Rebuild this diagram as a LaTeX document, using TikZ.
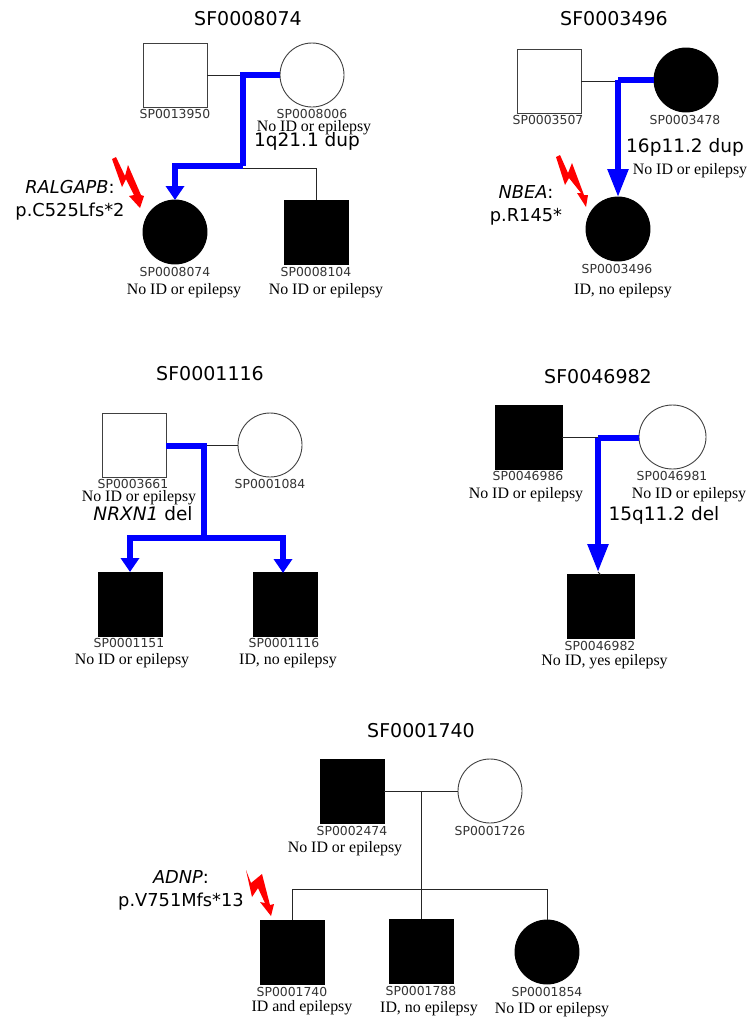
\documentclass[tikz,border=0pt]{standalone}
\usepackage{fontspec}
\setmainfont{Liberation Serif}
\newfontfamily\dejavu{DejaVu Sans}
\usetikzlibrary{arrows.meta,shapes.geometric}
\tikzset{
person/.style={draw=black!75,line width=0.9pt,inner sep=0pt,outer sep=0pt},
sqopen/.style={person,rectangle,minimum width=64pt,minimum height=64pt},
sqfull/.style={sqopen,fill=black,draw=black},
ciopen/.style={person,ellipse,minimum width=64pt,minimum height=64pt},
cifull/.style={ciopen,fill=black,draw=black},
famtitle/.style={font=\dejavu\fontsize{19}{20}\selectfont,inner sep=0pt},
spid/.style={font=\dejavu\fontsize{12.4}{13}\selectfont,text=black!80,inner sep=0pt},
pheno/.style={font=\fontsize{15.9}{16}\selectfont,inner sep=0pt,yshift=-1.5pt},
cnv/.style={font=\dejavu\fontsize{18.5}{20}\selectfont,inner sep=0pt},
snv/.style={font=\dejavu\fontsize{17.8}{23}\selectfont,inner sep=0pt,align=center},
link/.style={draw=black!85,line width=1pt},
carrier/.style={draw=blue,line width=5.5pt},
carrierarrow/.style={carrier,-{Triangle[length=14pt,width=18pt]}},
carrierlong/.style={carrier,-{Triangle[length=28pt,width=20pt]}},
bolt/.style={fill=red,draw=none}
}
\begin{document}
\begin{tikzpicture}[x=1pt,y=-1pt]
\useasboundingbox (0,0) rectangle (749,1018);
% SF0008074
\node[famtitle] (t1) at (248,19) {SF0008074};
\node[sqopen] (a1) at (175,75) {};
\node[ciopen] (a2) at (312,75) {};
\node[cifull] (a3) at (175,232) {};
\node[sqfull] (a4) at (316,232) {};
\node[spid] (a1id) at (175,114) {SP0013950};
\node[spid] (a2id) at (312,114) {SP0008006};
\node[pheno] (a2ph) at (314,126) {No ID or epilepsy};
\node[cnv] (a2cnv) at (307,141) {1q21.1 dup};
\node[spid] (a3id) at (175,272) {SP0008074};
\node[pheno] (a3ph) at (184,289) {No ID or epilepsy};
\node[spid] (a4id) at (316,272) {SP0008104};
\node[pheno] (a4ph) at (326,289) {No ID or epilepsy};
\node[snv] (a3snv) at (70,200) {\textit{RALGAPB}:\\p.C525Lfs*2};
\coordinate (a12) at (243,75);
\coordinate (a34) at (243,166);
\coordinate (a35) at (243,168);
\draw[link] (a1) -- (a2);
\draw[link] (a35) -| (a4);
\draw[carrier] (a2.west) -- (a12) -- (a34);
\draw[carrierarrow] (a34) -| (a3);
\fill[bolt] (112,159) -- (116,157) -- (125,176) -- (128,165) -- (141,195) -- (144,196) -- (140,208) -- (129,196) -- (134,195) -- (126,179) -- (122,187) -- cycle;
% SF0003496
\node[famtitle] (t2) at (614,19) {SF0003496};
\node[sqopen] (b1) at (549,81) {};
\node[cifull] (b2) at (686,80) {};
\node[cifull] (b3) at (618,229) {};
\node[spid] (b1id) at (548,120) {SP0003507};
\node[spid] (b2id) at (685,120) {SP0003478};
\node[cnv] (b2cnv) at (685,147) {16p11.2 dup};
\node[pheno] (b2ph) at (690,169) {No ID or epilepsy};
\node[spid] (b3id) at (617,269) {SP0003496};
\node[pheno] (b3ph) at (623,289) {ID, no epilepsy};
\node[snv] (b3snv) at (526,205) {\textit{NBEA}:\\p.R145*};
\coordinate (b12) at (618,80);
\draw[link] (b1.east) -- (b12 |- b1.east);
\draw[carrier] (b2) -- (b12);
\draw[carrierlong] (b12) -- (b3);
\fill[bolt] (556,157) -- (560,155) -- (568,173) -- (572,163) -- (584,195) -- (588,195) -- (586,207) -- (577,193) -- (581,193) -- (569,178) -- (565,185) -- cycle;
% SF0001116
\node[famtitle] (t3) at (210,374) {SF0001116};
\node[sqopen] (c1) at (134,445) {};
\node[ciopen] (c2) at (270,445) {};
\node[sqfull] (c3) at (130,604) {};
\node[sqfull] (c4) at (285,604) {};
\node[spid] (c1id) at (133,484) {SP0003661};
\node[pheno] (c1ph) at (139,496) {No ID or epilepsy};
\node[spid] (c2id) at (270,484) {SP0001084};
\node[cnv] (c1cnv) at (143,514) {\textit{NRXN1} del};
\node[spid] (c3id) at (129,643) {SP0001151};
\node[pheno] (c3ph) at (132,659) {No ID or epilepsy};
\node[spid] (c4id) at (284,643) {SP0001116};
\node[pheno] (c4ph) at (288,659) {ID, no epilepsy};
\coordinate (c12) at (204,446);
\coordinate (c34) at (204,538);
\coordinate (c4tip) at (283,573);
\draw[link] (c1) -- (c2);
\draw[carrier] (c1.east |- c12) -- (c12) -- (c34);
\draw[carrierarrow] (c34) -| (c3);
\draw[carrierarrow] (c34) -| (c4tip);
% SF0046982
\node[famtitle] (t4) at (598,377) {SF0046982};
\node[sqfull,minimum width=67pt] (d1) at (528.5,437) {};
\node[ciopen,minimum width=67pt] (d2) at (672.5,437) {};
\node[sqfull,minimum width=67pt] (d3) at (600.5,606.5) {};
\node[spid] (d1id) at (528,476) {SP0046986};
\node[pheno] (d1ph) at (526,493) {No ID or epilepsy};
\node[spid] (d2id) at (672,476) {SP0046981};
\node[pheno] (d2ph) at (689,493) {No ID or epilepsy};
\node[cnv] (d2cnv) at (664,515) {15q11.2 del};
\node[spid] (d3id) at (600,646) {SP0046982};
\node[pheno] (d3ph) at (604.5,660) {No ID, yes epilepsy};
\coordinate (d12) at (598,438);
\coordinate (d3tip) at (598,572);
\draw[link] (d1) -- (d2);
\draw[link] (d3tip) -- (d3.north);
\draw[carrier] (d2.west |- d12) -- (d12);
\draw[carrierlong] (d12) -- (d3tip);
% SF0001740
\node[famtitle] (t5) at (421,731) {SF0001740};
\node[sqfull] (e1) at (352,791) {};
\node[ciopen] (e2) at (490,791) {};
\node[sqfull] (e3) at (292,952) {};
\node[sqfull] (e4) at (421,951) {};
\node[cifull] (e5) at (547,952) {};
\node[spid] (e1id) at (352,831) {SP0002474};
\node[pheno] (e1ph) at (345,847) {No ID or epilepsy};
\node[spid] (e2id) at (490,831) {SP0001726};
\node[spid] (e3id) at (292,992) {SP0001740};
\node[pheno] (e3ph) at (302,1006) {ID and epilepsy};
\node[spid] (e4id) at (421,991) {SP0001788};
\node[pheno] (e4ph) at (429,1007) {ID, no epilepsy};
\node[spid] (e5id) at (547,992) {SP0001854};
\node[pheno] (e5ph) at (552,1008) {No ID or epilepsy};
\node[snv] (e3snv) at (181,890) {\textit{ADNP}:\\p.V751Mfs*13};
\coordinate (e12) at (421,791);
\coordinate (e34) at (421,889);
\draw[link] (e1) -- (e2);
\draw[link] (e12) -- (e4);
\draw[link] (e34) -| (e3);
\draw[link] (e34) -| (e5);
\fill[bolt] (246,870) -- (251,883) -- (262,874) -- (270,905) -- (274,904) -- (271,916) -- (260,902) -- (265,903) -- (258,888) -- (252,897) -- cycle;
\end{tikzpicture}
\end{document}
